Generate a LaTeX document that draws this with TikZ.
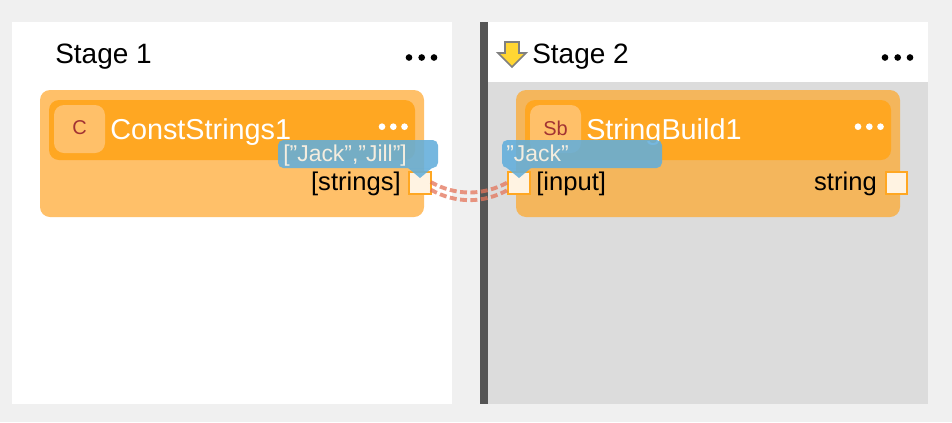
\documentclass[tikz,border=0pt]{standalone}
\usepackage{fontspec}
\setmainfont{Liberation Sans}
\definecolor{pagebg}{HTML}{F0F0F0}
\definecolor{bodygrey}{HTML}{DCDCDC}
\definecolor{barcol}{HTML}{555555}
\definecolor{nodea}{HTML}{FFC069}
\definecolor{nodeb}{HTML}{F4B65C}
\definecolor{titlecol}{HTML}{FFA722}
\definecolor{portcol}{HTML}{FFF3E2}
\definecolor{tipcol}{HTML}{62AEDB}
\definecolor{tiptext}{HTML}{FFF3E2}
\definecolor{linkcol}{HTML}{E4745A}
\definecolor{iconred}{HTML}{A23333}
\definecolor{arrowfill}{HTML}{FFD633}
\definecolor{arrowline}{HTML}{808080}
\tikzset{
  x=0.75pt,y=-0.75pt,
  boxsh/.style={rounded corners=7.5pt},
  staget/.style={anchor=base west,inner sep=0,font=\fontsize{21}{25}\selectfont,text=black},
  titlet/.style={anchor=base west,inner sep=0,font=\fontsize{21.6}{25}\selectfont,text=white},
  icont/.style={inner sep=0,font=\fontsize{15}{18}\selectfont,text=iconred},
  portt/.style={inner sep=0,font=\fontsize{19.2}{23}\selectfont,text=black},
  tipt/.style={anchor=base west,inner sep=0,font=\fontsize{17.2}{20}\selectfont,text=tiptext,text opacity=.92},
  portbox/.style={draw=titlecol,line width=1.5pt,fill=portcol,minimum width=16pt,minimum height=16pt,inner sep=0,outer sep=0},
  tipfill/.style={fill=tipcol,fill opacity=.88,draw=none},
  linkline/.style={draw=linkcol,line width=2.9pt,dash pattern=on 5.2pt off 2.6pt,opacity=.75},
  wdot/.style={circle,fill=white,minimum size=5pt,inner sep=0},
  bdot/.style={circle,fill=black,minimum size=5pt,inner sep=0},
}
\begin{document}
\begin{tikzpicture}
\useasboundingbox (0,0) rectangle (952,422);
\fill[pagebg] (0,0) rectangle (952,422);
% panels
\fill[white] (12,22) rectangle (452,404);
\fill[white] (488,22) rectangle (928,82);
\fill[bodygrey] (488,82) rectangle (928,404);
\fill[barcol] (480,22) rectangle (488,404);
% stage titles
\node[staget] (s1) at (55,63) {Stage 1};
\node[staget] (s2) at (532,63) {Stage 2};
\draw[draw=arrowline,fill=arrowfill,line width=1.3pt,line join=miter]
  (505,42) -- (519,42) -- (519,53) -- (526,53) -- (512,67) -- (498,53) -- (505,53) -- cycle;
\foreach \x in {409,421.7,434}{\node[bdot] at (\x,57.5) {};}
\foreach \x in {885,897.7,910}{\node[bdot] at (\x,57.5) {};}
% node 1
\fill[nodea,boxsh] (40,90) rectangle (424,217);
\fill[titlecol,boxsh] (49,100) rectangle (415,160);
\fill[nodea,boxsh] (54,105) rectangle (105,153);
\node[icont] (ic1) at (79.5,128) {C};
\node[titlet] (t1) at (110,139) {ConstStrings1};
\foreach \x in {382,393.3,404.5}{\node[wdot] at (\x,126.7) {};}
% node 2
\fill[nodeb,boxsh] (516,90) rectangle (900,217);
\fill[titlecol,boxsh] (525,100) rectangle (891,160);
\fill[nodea,boxsh] (530,105) rectangle (581,153);
\node[icont] (ic2) at (555.5,128) {Sb};
\node[titlet] (t2) at (586,139) {StringBuild1};
\foreach \x in {858,869.3,880.5}{\node[wdot] at (\x,126.7) {};}
% ports
\node[portbox] (p1) at (420,183) {};
\node[portbox] (p2) at (519,183) {};
\node[portbox] (p3) at (896.5,183) {};
\node[portt,anchor=base east] (l1) at (401,190) {[strings]};
\node[portt,anchor=base west] (l2) at (536,190) {[input]};
\node[portt,anchor=base east] (l3) at (877,190) {string};
% connector
\draw[linkline] ([yshift=0.75pt]p1.east) .. controls +(25,14) and +(-25,14) .. ([yshift=0.75pt]p2.west);
\draw[linkline] ([yshift=-5pt]p1.east) .. controls +(25,14) and +(-25,14) .. ([yshift=-5pt]p2.west);
% tooltips
\fill[tipfill,rounded corners=4pt] (278,140) rectangle (438,168);
\fill[tipfill] (408,168) -- (432,168) -- (420,178) -- cycle;
\node[tipt] (tt1) at (283,161) {[\char34 Jack\char34,\char34 Jill\char34]};
\fill[tipfill,rounded corners=4pt] (502,140) rectangle (662,168);
\fill[tipfill] (507,168) -- (531,168) -- (519,178) -- cycle;
\node[tipt] (tt2) at (506,161) {\char34 Jack\char34};
\end{tikzpicture}
\end{document}
